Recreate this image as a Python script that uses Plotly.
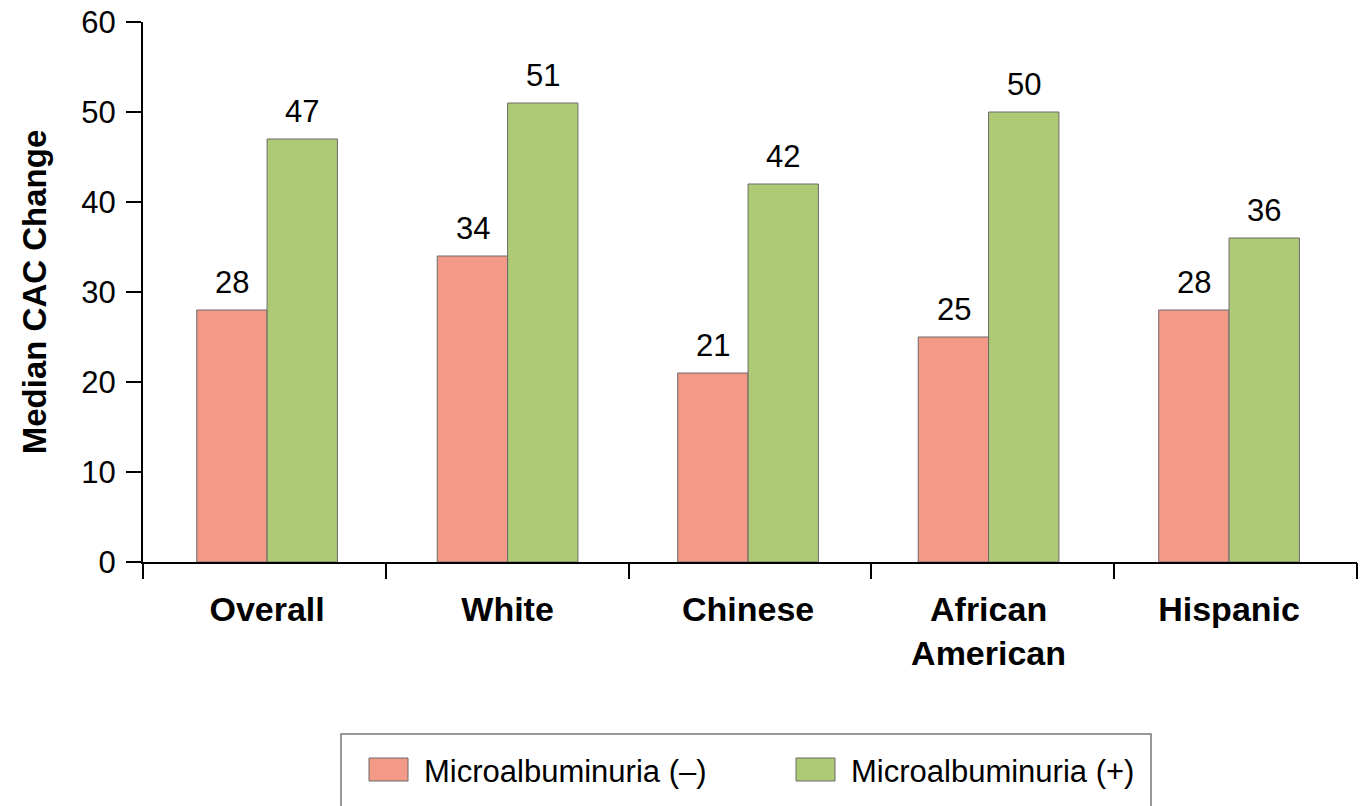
import plotly.graph_objects as go

# Median CAC change by ethnicity and microalbuminuria status
categories = ["Overall", "White", "Chinese", "African<br>American", "Hispanic"]
series_names = ["Microalbuminuria (–)", "Microalbuminuria (+)"]
neg_values = [28, 34, 21, 25, 28]
pos_values = [47, 51, 42, 50, 36]
y_ticks = [0, 10, 20, 30, 40, 50, 60]

RED = "#F39A87"
GREEN = "#AFCA74"
EDGE = "#6a6a6a"
FONT = "Arial, Liberation Sans, sans-serif"

W, H = 1366, 806
L, R, T, B = 143, 9, 22, 244
PW, PH = W - L - R, H - T - B


def px_x(x):
    return (x - L) / PW


def px_y(y):
    return (H - B - y) / PH


fig = go.Figure()
fig.add_trace(go.Bar(x=categories, y=neg_values, name=series_names[0],
                     marker=dict(color=RED, line=dict(color=EDGE, width=1)),
                     showlegend=False, hoverinfo="x+y"))
fig.add_trace(go.Bar(x=categories, y=pos_values, name=series_names[1],
                     marker=dict(color=GREEN, line=dict(color=EDGE, width=1)),
                     showlegend=False, hoverinfo="x+y"))
# carrier trace for the boundary tick axis
fig.add_trace(go.Scatter(x=[0, len(categories)], y=[0, 0], xaxis="x2", yaxis="y",
                         mode="markers", marker=dict(opacity=0),
                         showlegend=False, hoverinfo="skip"))

# value labels above each bar
for cat, v in zip(categories, neg_values):
    fig.add_annotation(x=cat, y=v, xref="x", yref="y", text=str(v), showarrow=False,
                       yanchor="bottom", xshift=-35, yshift=8,
                       font=dict(family=FONT, size=31, color="black"))
for cat, v in zip(categories, pos_values):
    fig.add_annotation(x=cat, y=v, xref="x", yref="y", text=str(v), showarrow=False,
                       yanchor="bottom", xshift=35, yshift=8,
                       font=dict(family=FONT, size=31, color="black"))

# legend box drawn below the axis
fig.add_shape(type="rect", xref="paper", yref="paper",
              x0=px_x(341), x1=px_x(1151), y0=px_y(734), y1=px_y(830),
              line=dict(color="#777777", width=1.5), fillcolor="rgba(0,0,0,0)")
swatches = [(369, RED), (796, GREEN)]
text_x = [422, 849]
for (sx, col), tx, name in zip(swatches, text_x, series_names):
    fig.add_shape(type="rect", xref="paper", yref="paper",
                  x0=px_x(sx), x1=px_x(sx + 39), y0=px_y(758), y1=px_y(781),
                  line=dict(color=EDGE, width=1), fillcolor=col)
    fig.add_annotation(x=px_x(tx), y=px_y(771), xref="paper", yref="paper",
                       text=name, showarrow=False, xanchor="left", yanchor="middle",
                       font=dict(family=FONT, size=31, color="black"))

fig.update_layout(
    width=W, height=H,
    margin=dict(l=L, r=R, t=T, b=B, autoexpand=False),
    paper_bgcolor="white", plot_bgcolor="white",
    barmode="group", bargap=0.415, bargroupgap=0,
    font=dict(family=FONT, color="black"),
    xaxis=dict(type="category", range=[-0.516, 4.532], showline=True,
               linecolor="black", linewidth=2, ticks="", showgrid=False,
               automargin=False,
               tickfont=dict(family=FONT, size=34, color="black", weight="bold"),
               ticklabelstandoff=16),
    xaxis2=dict(overlaying="x", anchor="y", side="bottom", range=[0, 5],
                tickvals=[0, 1, 2, 3, 4, 5], ticks="outside", ticklen=16,
                tickwidth=2, tickcolor="black", showticklabels=False,
                showgrid=False, zeroline=False, showline=False, automargin=False),
    yaxis=dict(range=[0, 60], tickvals=y_ticks, ticks="outside", ticklen=15,
               tickwidth=2, tickcolor="black", showline=True, linecolor="black",
               linewidth=2, showgrid=False, zeroline=False, automargin=False,
               tickfont=dict(family=FONT, size=31, color="black"),
               ticklabelstandoff=4,
               title=dict(text="<b>Median CAC Change</b>", standoff=25,
                          font=dict(family=FONT, size=33, color="black"))),
)

fig.write_html("out.html")
